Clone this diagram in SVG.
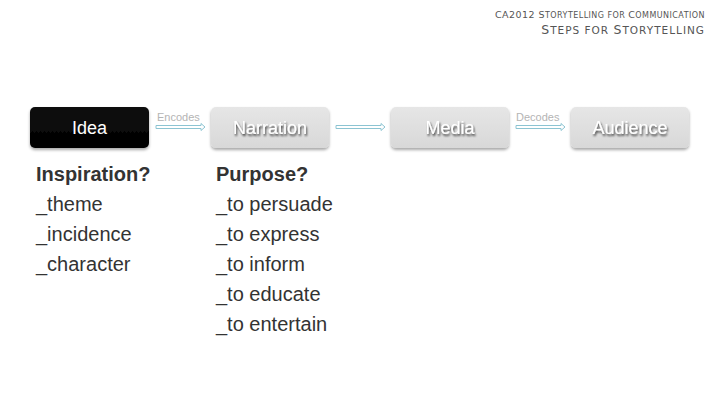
<svg xmlns="http://www.w3.org/2000/svg" width="720" height="405" viewBox="0 0 720 405">
<defs>
<linearGradient id="gbox" x1="0" y1="0" x2="0" y2="1">
<stop offset="0" stop-color="#e6e6e6"/><stop offset="1" stop-color="#d8d8d8"/>
</linearGradient>
<linearGradient id="bbox" x1="0" y1="0" x2="0" y2="1">
<stop offset="0" stop-color="#111"/><stop offset="1" stop-color="#000"/>
</linearGradient>
<filter id="sh" x="-10%" y="-20%" width="130%" height="160%">
<feGaussianBlur in="SourceAlpha" stdDeviation="1.5"/>
<feOffset dx="0" dy="2" result="b"/>
<feComponentTransfer><feFuncA type="linear" slope="0.35"/></feComponentTransfer>
<feMerge><feMergeNode/><feMergeNode in="SourceGraphic"/></feMerge>
</filter>
<filter id="tsh" x="-10%" y="-30%" width="130%" height="180%">
<feGaussianBlur in="SourceAlpha" stdDeviation="0.8"/>
<feOffset dx="1" dy="1.5"/>
<feComponentTransfer><feFuncA type="linear" slope="0.75"/></feComponentTransfer>
<feMerge><feMergeNode/><feMergeNode in="SourceGraphic"/></feMerge>
</filter>
</defs>
<style>
.hdr{font-family:"DejaVu Sans",Verdana,sans-serif;fill:#555}
.lbl{font-family:"Liberation Sans",Arial,sans-serif;font-size:18px;text-anchor:middle;fill:#fff}
.box{fill:url(#gbox);filter:url(#sh)}
.arr{fill:#fff;stroke:#8cc4d2;stroke-width:1}
.small{font-family:"Liberation Sans",Arial,sans-serif;font-size:11px;fill:#b4b4b4}
.body{font-family:"Liberation Sans",Arial,sans-serif;font-size:20px;fill:#333}
.bold{font-weight:bold}
</style>
<rect width="720" height="405" fill="#fff"/>
<g id="header">
<text class="hdr" x="705" y="18" text-anchor="end" font-size="9.5" letter-spacing="0.45">CA2012 S<tspan font-size="8">TORYTELLING FOR </tspan>C<tspan font-size="8">OMMUNICATION</tspan></text>
<text class="hdr" x="705" y="34" text-anchor="end" font-size="12.5" letter-spacing="1">S<tspan font-size="10.5">TEPS FOR </tspan>S<tspan font-size="10.5">TORYTELLING</tspan></text>
</g>
<g id="connectors">
<path class="arr" d="M156,125.5 H201 V123.5 L205,127 L201,130.5 V128.5 H156 Z"/>
<path class="arr" d="M336,125.5 H381 V123.5 L385,127 L381,130.5 V128.5 H336 Z"/>
<path class="arr" d="M516,125.5 H561 V123.5 L565,127 L561,130.5 V128.5 H516 Z"/>
<text class="small" x="157" y="121">Encodes</text>
<text class="small" x="516" y="121">Decodes</text>
</g>
<g id="idea">
<rect x="30" y="107" width="119" height="41" rx="5" fill="url(#bbox)" filter="url(#sh)"/>
<text class="lbl" x="89.5" y="134">Idea</text>
</g>
<g id="narration">
<rect class="box" x="211" y="107" width="118" height="41" rx="5"/>
<text class="lbl" x="270" y="134" filter="url(#tsh)">Narration</text>
</g>
<g id="media">
<rect class="box" x="391" y="107" width="118" height="41" rx="5"/>
<text class="lbl" x="450" y="134" filter="url(#tsh)">Media</text>
</g>
<g id="audience">
<rect class="box" x="571" y="107" width="118" height="41" rx="5"/>
<text class="lbl" x="630" y="134" filter="url(#tsh)">Audience</text>
</g>
<g id="inspiration">
<text class="body bold" x="36" y="181">Inspiration?</text>
<text class="body" x="36" y="211">_theme</text>
<text class="body" x="36" y="241">_incidence</text>
<text class="body" x="36" y="271">_character</text>
</g>
<g id="purpose">
<text class="body bold" x="216" y="181">Purpose?</text>
<text class="body" x="216" y="211">_to persuade</text>
<text class="body" x="216" y="241">_to express</text>
<text class="body" x="216" y="271">_to inform</text>
<text class="body" x="216" y="301">_to educate</text>
<text class="body" x="216" y="331">_to entertain</text>
</g>
</svg>
